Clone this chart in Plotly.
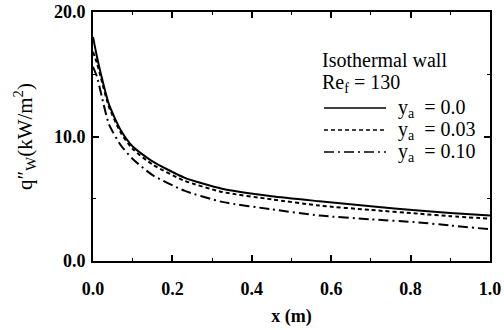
import plotly.graph_objects as go

x_vals = [0, 0.01, 0.02, 0.04, 0.07, 0.1, 0.15, 0.23, 0.325, 0.45, 0.57, 0.7, 0.82, 0.9, 1.0]
q_ya_000 = [18.0, 16.4, 15.0, 12.6, 10.5, 9.2, 8.0, 6.7, 5.8, 5.2, 4.8, 4.4, 4.05, 3.85, 3.65]
q_ya_003 = [16.8, 15.9, 14.7, 12.4, 10.3, 9.0, 7.75, 6.45, 5.55, 4.95, 4.45, 4.1, 3.8, 3.6, 3.4]
q_ya_010 = [15.6, 14.8, 13.5, 11.0, 9.3, 8.2, 6.9, 5.65, 4.75, 4.15, 3.65, 3.35, 3.1, 2.85, 2.55]

series_labels = ["y<sub>a</sub>  = 0.0", "y<sub>a</sub>  = 0.03", "y<sub>a</sub>  = 0.10"]
x_ticks = [0.0, 0.2, 0.4, 0.6, 0.8, 1.0]
y_ticks = [0.0, 10.0, 20.0]

FONT = "Liberation Serif"
dashes = ["solid", "4px,3px", "10px,4px,2px,4px"]
series = [q_ya_000, q_ya_003, q_ya_010]

fig = go.Figure()
for ys, lab, d in zip(series, series_labels, dashes):
    fig.add_trace(go.Scatter(x=x_vals, y=ys, mode="lines", name=lab,
                             line=dict(color="black", width=2, dash=d, shape="spline", smoothing=0.6),
                             showlegend=False))

# manual legend (samples as shapes, text as annotations)
leg_y = [108, 130, 152]
for yy, lab, d in zip(leg_y, series_labels, dashes):
    yp = 1 - (yy - 12) / (261 - 12)
    fig.add_shape(type="line", xref="paper", yref="paper",
                  x0=(324 - 93) / 397, x1=(386 - 93) / 397, y0=yp, y1=yp,
                  line=dict(color="black", width=1.5, dash=d))
    fig.add_annotation(xref="paper", yref="paper", x=(396 - 93) / 397, y=yp,
                       text=lab, showarrow=False, xanchor="left", yanchor="middle",
                       font=dict(family=FONT, size=20, color="black"))
for yy, txt in [(60, "Isothermal wall"), (83, "Re<sub>f</sub> = 130")]:
    yp = 1 - (yy - 12) / (261 - 12)
    fig.add_annotation(xref="paper", yref="paper", x=(320 - 93) / 397, y=yp,
                       text=txt, showarrow=False, xanchor="left", yanchor="middle",
                       font=dict(family=FONT, size=20, color="black"))

axis_common = dict(showline=True, linecolor="black", linewidth=2, mirror="allticks",
                   ticks="inside", ticklen=6, tickwidth=1.5, tickcolor="black",
                   showgrid=False, zeroline=False, automargin=False,
                   tickfont=dict(family=FONT, size=18, color="black", weight="bold"))

fig.update_xaxes(range=[0, 1.0], tickvals=x_ticks, ticktext=[f"{v:.1f}" for v in x_ticks],
                 minor=dict(dtick=0.1, ticks="inside", ticklen=3, tickcolor="black", tickwidth=1.2),
                 ticklabelstandoff=10,
                 title=dict(text="x (m)", font=dict(family=FONT, size=18, color="black", weight="bold"), standoff=12),
                 **axis_common)
fig.update_yaxes(range=[0, 20.0], tickvals=y_ticks, ticktext=[f"{v:.1f}" for v in y_ticks],
                 minor=dict(dtick=5, ticks="inside", ticklen=3, tickcolor="black", tickwidth=1.2),
                 ticklabelstandoff=2,
                 title=dict(text="q\u2033<sub>W</sub>(kW/m<sup>2</sup>)", font=dict(family=FONT, size=21, color="black"), standoff=16),
                 **axis_common)

fig.update_layout(width=504, height=330, margin=dict(l=93, r=14, t=12, b=69),
                  paper_bgcolor="white", plot_bgcolor="white",
                  font=dict(family=FONT, color="black"))

fig.write_html("out.html")
